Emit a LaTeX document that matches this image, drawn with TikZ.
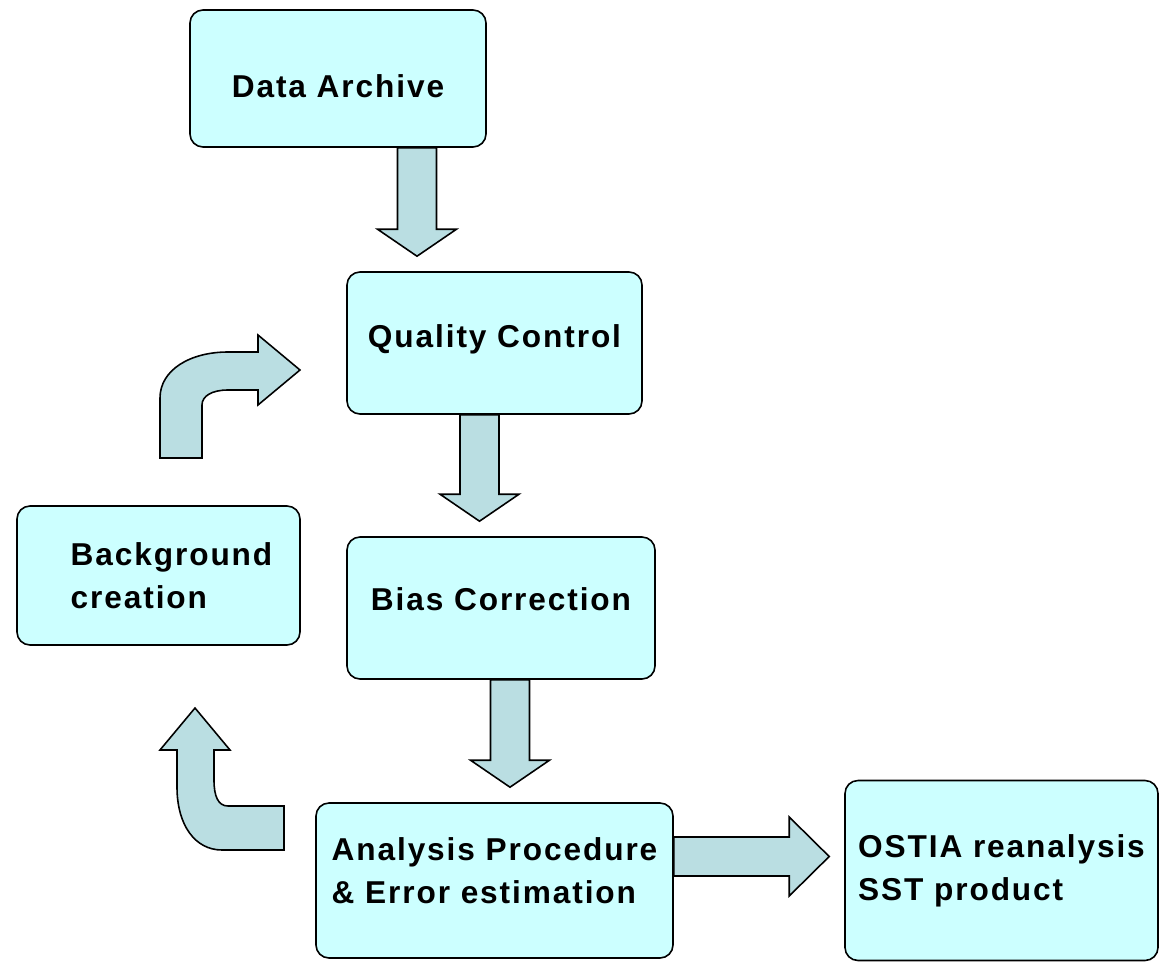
\documentclass[tikz,border=0pt]{standalone}
\usepackage{fontspec}
\setmainfont{Liberation Sans}[LetterSpace=6]
\usetikzlibrary{calc}
\definecolor{boxcyan}{RGB}{204,255,255}
\definecolor{arrowteal}{RGB}{186,222,226}
\tikzset{
  procbox/.style={draw=black, line width=0.9pt, fill=boxcyan, rounded corners=0.26cm,
    align=left, inner sep=2pt, font=\bfseries\fontsize{18}{24.5}\selectfont},
  boxsize/.style 2 args={minimum width=#1*0.02cm, minimum height=#2*0.02cm},
  blockarr/.style={draw=black, line width=0.9pt, fill=arrowteal, line join=miter},
}
% straight block arrows: shaft centre, from node, to node
\newcommand{\downblock}[3]{%
  \draw[blockarr] ($(#1,0 |- #2.south)+(-19.5,0)$) -- ($(#1,0 |- #3.north)+(-19.5,-42)$)
    -- ++(-20,0) -- ($(#1,0 |- #3.north)+(0,-15)$) -- ($(#1,0 |- #3.north)+(39.5,-42)$)
    -- ++(-20,0) -- ($(#1,0 |- #2.south)+(19.5,0)$) -- cycle;}
\newcommand{\rightblock}[3]{%
  \draw[blockarr] ($(#2.east |- 0,#1)+(0,-19.5)$) -- ($(#3.west |- 0,#1)+(-55,-19.5)$)
    -- ++(0,-20) -- ($(#3.west |- 0,#1)+(-15,0)$) -- ($(#3.west |- 0,#1)+(-55,39.5)$)
    -- ++(0,-20) -- ($(#2.east |- 0,#1)+(0,19.5)$) -- cycle;}

\begin{document}
\begin{tikzpicture}[x=0.02cm, y=-0.02cm]
\useasboundingbox (0,0) rectangle (1167,963);
% Process boxes
\node[procbox, boxsize={296}{137}, text height=21.4pt, text depth=0pt] (da) at (338,78.5) {Data Archive};
\node[procbox, boxsize={295}{142}, text height=13pt, text depth=8.1pt] (qc) at (494.5,343) {Quality Control};
\node[procbox, boxsize={308}{142}, text height=13pt, text depth=9.8pt] (bc) at (501,608) {Bias Correction};
\node[procbox, boxsize={283}{139}] (bg) at (158.5,575.5) {\hspace*{0.52cm}Background\\\hspace*{0.52cm}creation};
\node[procbox, boxsize={357}{155}, text height=37.5pt, text depth=10.9pt] (an) at (494.5,880.5) {Analysis Procedure\\\& Error estimation};
\node[procbox, boxsize={313}{180}] (os) at (1001.5,870.5) {OSTIA reanalysis\\SST product};
% Straight arrows
\downblock{417}{da}{qc}
\downblock{479.5}{qc}{bc}
\downblock{510}{bc}{an}
\rightblock{856.5}{an}{os}
% Curved arrows of the loop
\draw[blockarr] (160,458) -- (160,398) .. controls (160,370) and (190,352) .. (228,352)
  -- (258,352) -- (258,335) -- (300,370) -- (258,405) -- (258,390) -- (228,390)
  .. controls (212,390) and (202,396) .. (202,405) -- (202,458) -- cycle;
\draw[blockarr] (284,806) -- (228,806) .. controls (218,806) and (214,796) .. (214,780)
  -- (214,750) -- (230,750) -- (195,708) -- (160,750) -- (177,750) -- (177,787)
  .. controls (177,825) and (195,850) .. (222,850) -- (284,850) -- cycle;
\end{tikzpicture}
\end{document}
